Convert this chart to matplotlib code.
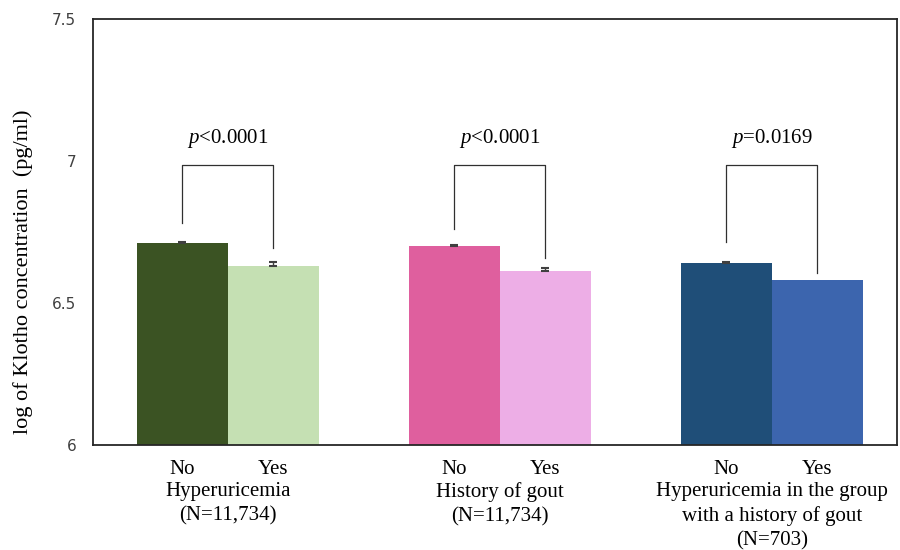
import matplotlib
matplotlib.use("Agg")
from matplotlib import pyplot as plt

# bar values (log of Klotho concentration)
groups = ["Hyperuricemia\n(N=11,734)", "History of gout\n(N=11,734)",
          "Hyperuricemia in the group\nwith a history of gout\n(N=703)"]
no_vals = [6.711, 6.701, 6.640]
yes_vals = [6.630, 6.613, 6.581]
no_err = [0.004, 0.003, 0.003]
yes_err = [0.016, 0.010, 0.0]
p_labels = ["<0.0001", "<0.0001", "=0.0169"]
# where the bracket legs stop (data units)
leg_no = [6.78, 6.76, 6.715]
leg_yes = [6.695, 6.66, 6.605]

no_colors = ["#3B5323", "#DF5F9E", "#1F4E78"]
yes_colors = ["#C5E0B3", "#EDAEE6", "#3C65AE"]

serif = "Liberation Serif"
plt.rcParams["mathtext.fontset"] = "custom"
plt.rcParams["mathtext.it"] = "Liberation Serif:italic"
plt.rcParams["mathtext.rm"] = "Liberation Serif"

fig = plt.figure(figsize=(9, 5.5), dpi=100)
ax = fig.add_axes([0.1033, 0.1909, 0.8934, 0.7746])

width = 0.335
centers = range(len(groups))
xs_no = [c - width / 2 for c in centers]
xs_yes = [c + width / 2 for c in centers]

ax.bar(xs_no, [v - 6 for v in no_vals], width, bottom=6, color=no_colors)
ax.bar(xs_yes, [v - 6 for v in yes_vals], width, bottom=6, color=yes_colors)

# error bars only where they are visible
ekw = dict(fmt="none", ecolor="#404040", capsize=3, elinewidth=1, capthick=1.5)
xs_e = [x for x, e in zip(xs_no + xs_yes, no_err + yes_err) if e > 0]
ys_e = [v for v, e in zip(no_vals + yes_vals, no_err + yes_err) if e > 0]
es = [e for e in no_err + yes_err if e > 0]
ax.errorbar(xs_e, ys_e, yerr=[[0] * len(es), es], **ekw)

# significance brackets
top = 6.987
for i in centers:
    ax.plot([xs_no[i], xs_no[i], xs_yes[i], xs_yes[i]],
            [leg_no[i], top, top, leg_yes[i]], color="#303030", lw=0.9)
    ax.text(i, 7.08, r"$\it{p}$" + p_labels[i],
            ha="center", va="center", fontsize=15, family=serif)

ax.set_ylim(6, 7.5)
ax.set_xlim(-0.496, 2.46)
ax.set_yticks([6, 6.5, 7, 7.5])
ax.set_yticklabels(["6", "6.5", "7", "7.5"], fontsize=11, color="#404040")
ax.tick_params(axis="y", length=0, pad=12)
ax.tick_params(axis="x", length=0, pad=11)

ax.set_xticks(xs_no + xs_yes)
ax.set_xticklabels(["No"] * 3 + ["Yes"] * 3, fontsize=15, family=serif)

for i in centers:
    ax.text(i, -0.087, groups[i], transform=ax.get_xaxis_transform(),
            ha="center", va="top", fontsize=15, family=serif, linespacing=1.35)

ax.set_ylabel("log of Klotho concentration  (pg/ml)", fontsize=16, family=serif)
ax.yaxis.set_label_coords(-0.075, 0.406)

for s in ax.spines.values():
    s.set_linewidth(1.3)
    s.set_color("#262626")

fig.savefig("out.png", dpi=100)
